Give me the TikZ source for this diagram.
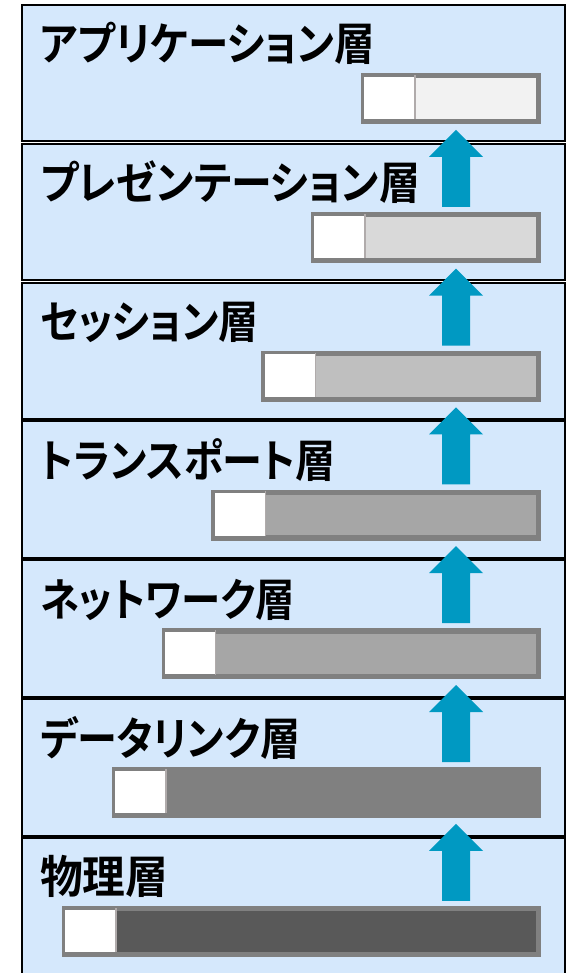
\documentclass[tikz,border=0pt]{standalone}
\usepackage{fontspec}
\newfontfamily\jp[RawFeature=+palt]{Noto Sans CJK JP Bold}
\definecolor{bandfill}{HTML}{D5E8FC}
\definecolor{arrowblue}{HTML}{0099C2}
\definecolor{barborder}{HTML}{808080}
\definecolor{divider}{HTML}{B0ABAB}
\definecolor{barA}{HTML}{F2F2F2}
\definecolor{barB}{HTML}{D9D9D9}
\definecolor{barC}{HTML}{BFBFBF}
\definecolor{barD}{HTML}{A6A6A6}
\definecolor{barE}{HTML}{A6A6A6}
\definecolor{barF}{HTML}{808080}
\definecolor{barG}{HTML}{595959}
\tikzset{
  band/.style={draw=black, line width=2pt, fill=bandfill, rectangle, inner sep=0pt,
    anchor=north west, minimum width=543pt, minimum height=136.5pt},
  lbl/.style={anchor=base west, inner sep=0pt, font=\jp\fontsize{45}{50}\selectfont},
  barbox/.style={draw=barborder, line width=3.5pt, rectangle, inner sep=0pt, anchor=north east, minimum height=44pt},
  whitepart/.style={fill=white, rectangle, inner sep=0pt, anchor=north west, minimum height=44pt, minimum width=52pt},
  uparrow/.style={fill=arrowblue, draw=none}
}
\begin{document}
\begin{tikzpicture}[x=1pt,y=-1pt]
\useasboundingbox (0,0) rectangle (569,973);
\foreach \k/\txt/\col/\sx in {0/アプリケーション層/barA/0.90,1/プレゼンテーション層/barB/0.91,2/セッション層/barC/0.89,3/トランスポート層/barD/0.89,4/ネットワーク層/barE/0.875,5/データリンク層/barF/0.89,6/物理層/barG/0.95}{
  \pgfmathsetmacro{\t}{4+138.8*\k}
  \pgfmathsetmacro{\bw}{539-(366-49.8*\k)}
  \node[band] (band\k) at (21,\t) {};
  \node[lbl] (label\k) at (40,\t+57) {\scalebox{\sx}[1]{\txt}};
  \node[barbox, fill=\col, minimum width=\bw pt] (bar\k) at (539,\t+71) {};
  \node[whitepart] (white\k) at (bar\k.north west) {};
  \draw[barborder, line width=3.5pt] (bar\k.north west) rectangle (bar\k.south east);
  \draw[divider, line width=1.5pt] (white\k.north east) -- (white\k.south east);
}
\foreach \k in {1,...,6}{
  \pgfmathsetmacro{\t}{4+138.8*\k}
  \coordinate (tip\k) at (456,\t-13);
  \fill[uparrow] (tip\k) -- ++(27,27) -- ++(-13,0) -- ++(0,50) -- ++(-28,0) -- ++(0,-50) -- ++(-13,0) -- cycle;
}
\end{tikzpicture}
\end{document}
